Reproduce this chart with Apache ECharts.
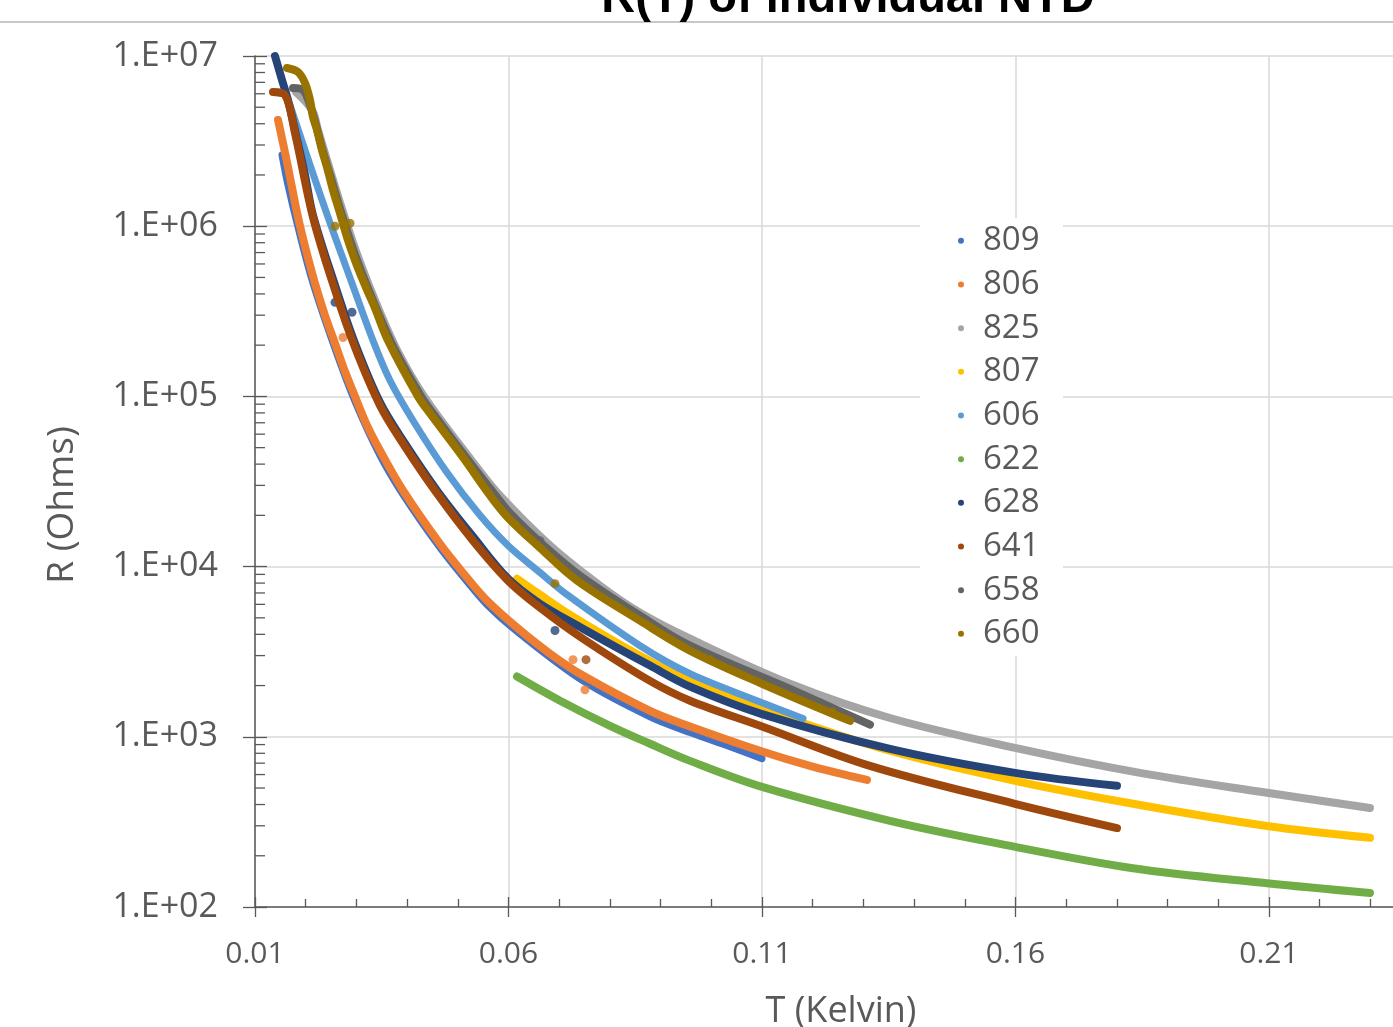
<!DOCTYPE html>
<html>
<head>
<meta charset="utf-8">
<script src="https://cdn.jsdelivr.net/npm/echarts@6/dist/echarts.min.js"></script>
<style>
html,body{margin:0;padding:0;background:#fff;}
#chart{width:1393px;height:1027px;}
</style>
</head>
<body>
<div id="chart"></div>
<script>
const seriesNames = ['809','806','825','807','606','622','628','641','658','660'];
const seriesColors = ['#4472C4','#ED7D31','#A5A5A5','#FFC000','#5B9BD5','#70AD47','#264478','#9E480E','#636363','#997300'];
const yTickLabels = ['1.E+02','1.E+03','1.E+04','1.E+05','1.E+06','1.E+07'];
const yMinorTicks = [200,300,400,500,600,700,800,900,2e3,3e3,4e3,5e3,6e3,7e3,8e3,9e3,2e4,3e4,4e4,5e4,6e4,7e4,8e4,9e4,2e5,3e5,4e5,5e5,6e5,7e5,8e5,9e5,2e6,3e6,4e6,5e6,6e6,7e6,8e6,9e6];

const T_809 = [0.01533,0.01651,0.01848,0.02144,0.02578,0.02972,0.03465,0.03919,0.04649,0.05181,0.05576,0.06168,0.07469,0.08791,0.0958,0.10369,0.11];
const R_809 = [2.62e6,1.74e6,9.86e5,4.62e5,1.91e5,9.35e4,4.50e4,2.65e4,1.29e4,8.17e3,5.97e3,4.15e3,2.13e3,1.31e3,1.06e3,874,743];

const T_806 = [0.01454,0.01552,0.01651,0.01848,0.02006,0.02183,0.02381,0.02578,0.02775,0.02972,0.03209,0.03465,0.03919,0.04649,0.05181,0.05576,0.06168,0.06819,0.07469,0.08791,0.0958,0.1096,0.11947,0.13071];
const R_806 = [4.21e6,3.08e6,2.22e6,1.13e6,7.22e5,4.62e5,2.99e5,2.05e5,1.40e5,1.0e5,6.75e4,4.81e4,2.80e4,1.36e4,8.61e3,6.31e3,4.38e3,3.08e3,2.29e3,1.42e3,1.15e3,828,675,558];

const T_825 = [0.01809,0.02124,0.02243,0.02361,0.02755,0.03071,0.03465,0.03821,0.04333,0.05241,0.05793,0.06819,0.07805,0.08594,0.0958,0.11552,0.13525,0.1599,0.18456,0.20961,0.22992];
const R_825 = [6.14e6,4.81e6,3.67e6,2.80e6,1.16e6,6.14e5,3.12e5,1.82e5,1.0e5,4.32e4,2.69e4,1.33e4,7.73e3,5.36e3,3.77e3,2.05e3,1.29e3,861,614,469,382];

const T_807 = [0.06168,0.06621,0.07272,0.08594,0.0958,0.11,0.13525,0.1599,0.18318,0.20961,0.22992];
const R_807 = [8.49e3,6.84e3,5.08e3,2.99e3,2.13e3,1.46e3,828,551,404,299,255];

const T_606 = [0.0169,0.01986,0.0244,0.02913,0.03327,0.03663,0.04116,0.04787,0.05438,0.0599,0.06621,0.07154,0.08594,0.0958,0.10901,0.11809];
const R_606 = [5.15e6,2.80e6,1.13e6,4.62e5,2.13e5,1.24e5,7.22e4,3.57e4,2.0e4,1.33e4,9.23e3,6.84e3,3.43e3,2.35e3,1.63e3,1.28e3];

const T_622 = [0.06168,0.07016,0.08002,0.08791,0.0958,0.11,0.13525,0.15694,0.18318,0.20961,0.22992];
const R_622 = [2260,1630,1160,910,722,508,321,235,169,138,121];

const T_628 = [0.01394,0.01533,0.01651,0.01809,0.01986,0.02144,0.02578,0.02972,0.03465,0.03919,0.0459,0.053,0.0599,0.06621,0.07469,0.08791,0.0958,0.11,0.13525,0.1599,0.18002];
const R_628 = [1.0e7,7.22e6,5.51e6,3.43e6,2.0e6,1.16e6,4.50e5,2.05e5,9.23e4,5.51e4,2.80e4,1.50e4,8.49e3,6.05e3,4.32e3,2.62e3,1.97e3,1.36e3,849,614,515];

const T_641 = [0.01355,0.01592,0.01789,0.02144,0.02578,0.02972,0.03465,0.03919,0.0459,0.053,0.0599,0.06621,0.07469,0.08791,0.0958,0.11,0.1313,0.1599,0.18002];
const R_641 = [6.14e6,5.90e6,3.52e6,1.13e6,4.21e5,1.94e5,8.85e4,5.29e4,2.69e4,1.42e4,8.28e3,5.74e3,3.77e3,2.13e3,1.63e3,1.15e3,675,404,291];

const T_658 = [0.0175,0.01947,0.02085,0.02203,0.02321,0.02479,0.02716,0.03012,0.03406,0.03761,0.04274,0.04511,0.05162,0.05714,0.06069,0.0672,0.0741,0.08594,0.0958,0.11552,0.1313];
const R_658 = [6.49e6,6.31e6,5.15e6,3.93e6,2.88e6,2.0e6,1.16e6,6.31e5,3.21e5,1.87e5,1.0e5,7.94e4,4.38e4,2.69e4,2.0e4,1.31e4,8.85e3,5.15e3,3.43e3,1.91e3,1.18e3];

const T_660 = [0.01631,0.01848,0.01986,0.02085,0.02144,0.02223,0.02321,0.0242,0.02538,0.02677,0.02815,0.02972,0.0317,0.03367,0.03623,0.04215,0.04452,0.05103,0.05635,0.0599,0.06621,0.07351,0.08594,0.0958,0.11,0.12736];
const R_660 = [8.50e6,8.05e6,6.94e6,5.51e6,4.38e6,3.67e6,2.80e6,2.22e6,1.63e6,1.19e6,8.61e5,6.31e5,4.50e5,3.30e5,2.13e5,1.0e5,7.94e4,4.38e4,2.62e4,1.94e4,1.29e4,8.28e3,4.81e3,3.21e3,2.05e3,1.24e3];

// isolated stray points visible off the main traces
const T_out_806 = [0.02736,0.07272,0.07509];
const R_out_806 = [2.22e5,2.84e3,1.89e3];
const T_out_628 = [0.02578,0.02913,0.06878,0.06917];
const R_out_628 = [3.57e5,3.12e5,5.36e3,4.21e3];
const T_out_641 = [0.07529];
const R_out_641 = [2.84e3];
const T_out_658 = [0.05635,0.06621];
const R_out_658 = [2.84e4,1.42e4];
const T_out_660 = [0.02578,0.02874,0.06917,0.09974,0.1238];
const R_out_660 = [1.0e6,1.04e6,7.94e3,2.84e3,1.40e3];

const seriesT = [T_809,T_806,T_825,T_807,T_606,T_622,T_628,T_641,T_658,T_660];
const seriesR = [R_809,R_806,R_825,R_807,R_606,R_622,R_628,R_641,R_658,R_660];
const outliers = {'806': [T_out_806, R_out_806], '628': [T_out_628, R_out_628], '641': [T_out_641, R_out_641], '658': [T_out_658, R_out_658], '660': [T_out_660, R_out_660]};

const chart = echarts.init(document.getElementById('chart'), null, {renderer:'canvas'});
const TXT = '#595959';
const AX = '#595959';
const FONT = '"Open Sans", "Noto Sans", sans-serif';
const widths = {'809': 7, '606': 7};

const lineSeries = seriesNames.map((name, i) => ({
  name: name,
  type: 'line',
  xAxisIndex: 0, yAxisIndex: 0,
  data: seriesT[i].map((t, j) => [t, seriesR[i][j]]),
  showSymbol: false,
  smooth: 0.35,
  clip: false,
  itemStyle: {color: seriesColors[i]},
  lineStyle: {color: seriesColors[i], width: widths[name] || 8, cap: 'round', join: 'round'},
  emphasis: {disabled: true},
  z: 3 + i * 0.01
}));

const outlierSeries = Object.keys(outliers).map(name => {
  const i = seriesNames.indexOf(name);
  const o = outliers[name];
  return {
    name: name, type: 'scatter', xAxisIndex: 0, yAxisIndex: 0,
    data: o[0].map((t, j) => [t, o[1][j]]),
    symbol: 'circle', symbolSize: 9, clip: false,
    itemStyle: {color: seriesColors[i]},
    emphasis: {disabled: true},
    z: 3 + i * 0.01
  };
});

const minorTickSeries = {
  type: 'custom',
  xAxisIndex: 0, yAxisIndex: 0,
  silent: true,
  clip: false,
  z: 5,
  data: yMinorTicks.map(v => [0.01, v]),
  renderItem: function (params, api) {
    const p = api.coord([api.value(0), api.value(1)]);
    return {type: 'line', shape: {x1: p[0], y1: p[1], x2: p[0] + 10, y2: p[1]}, style: {stroke: AX, lineWidth: 1.3}};
  }
};

chart.setOption({
  animation: false,
  backgroundColor: '#fff',
  grid: {left: 255, top: 56, width: 1267.5, height: 851, containLabel: false, outerBoundsMode: 'none'},
  legend: {
    orient: 'vertical', left: 935, top: 219,
    padding: [0, 10, 0, 23], itemGap: 0, itemWidth: 34, itemHeight: 6,
    icon: 'circle', backgroundColor: 'transparent',
    data: seriesNames,
    textStyle: {fontSize: 33, color: TXT, fontFamily: FONT, lineHeight: 43.67},
    z: 10
  },
  xAxis: [{
    type: 'value', min: 0.01, max: 0.26, interval: 0.05,
    axisLine: {show: true, lineStyle: {color: AX, width: 1.5}},
    axisTick: {show: true, inside: false, length: 10, lineStyle: {color: AX, width: 1.3}},
    axisLabel: {show: true, fontSize: 30, color: TXT, fontFamily: FONT, margin: 32},
    splitLine: {show: true, lineStyle: {color: '#d9d9d9', width: 1.5}}
  }, {
    type: 'value', min: 0.01, max: 0.26, interval: 0.05, position: 'bottom',
    axisLine: {show: false},
    axisTick: {show: true, inside: true, length: 10, lineStyle: {color: AX, width: 1.3}},
    minorTick: {show: true, splitNumber: 5, length: 8, lineStyle: {color: AX, width: 1.3}},
    axisLabel: {show: false},
    splitLine: {show: false}
  }],
  yAxis: [{
    type: 'log', logBase: 10, min: 100, max: 1e7, position: 'left',
    axisLine: {show: true, lineStyle: {color: AX, width: 1.5}},
    axisTick: {show: true, inside: false, length: 12, lineStyle: {color: AX, width: 1.3}},
    axisLabel: {show: true, fontSize: 34, color: TXT, fontFamily: FONT, margin: 37,
      formatter: v => yTickLabels[Math.round(Math.log10(v)) - 2]},
    splitLine: {show: true, lineStyle: {color: '#d9d9d9', width: 1.5}}
  }, {
    type: 'log', logBase: 10, min: 100, max: 1e7, position: 'left',
    axisLine: {show: false},
    axisTick: {show: true, inside: true, length: 12, lineStyle: {color: AX, width: 1.3}},
    axisLabel: {show: false},
    splitLine: {show: false}
  }],
  graphic: [
    {type: 'line', shape: {x1: 0, y1: 22, x2: 1393, y2: 22}, style: {stroke: '#c8c8c8', lineWidth: 2}, z: 1},
    {type: 'rect', shape: {x: 920, y: 218, width: 143, height: 438}, style: {fill: '#fff'}, z: 2},
    {type: 'text', x: 848, y: -1, style: {text: 'R(T) of individual NTD', font: 'bold 47px "Liberation Sans", Arial, sans-serif', fill: '#000', textAlign: 'center', textVerticalAlign: 'middle'}, z: 2},
    {type: 'text', x: 62, y: 505, rotation: Math.PI / 2, style: {text: 'R (Ohms)', font: '37px "Open Sans", sans-serif', fill: TXT, textAlign: 'center', textVerticalAlign: 'middle'}},
    {type: 'text', x: 841, y: 1012, style: {text: 'T (Kelvin)', font: '36px "Open Sans", sans-serif', fill: TXT, textAlign: 'center', textVerticalAlign: 'middle'}}
  ],
  series: lineSeries.concat(outlierSeries, [minorTickSeries])
});
</script>
</body>
</html>
